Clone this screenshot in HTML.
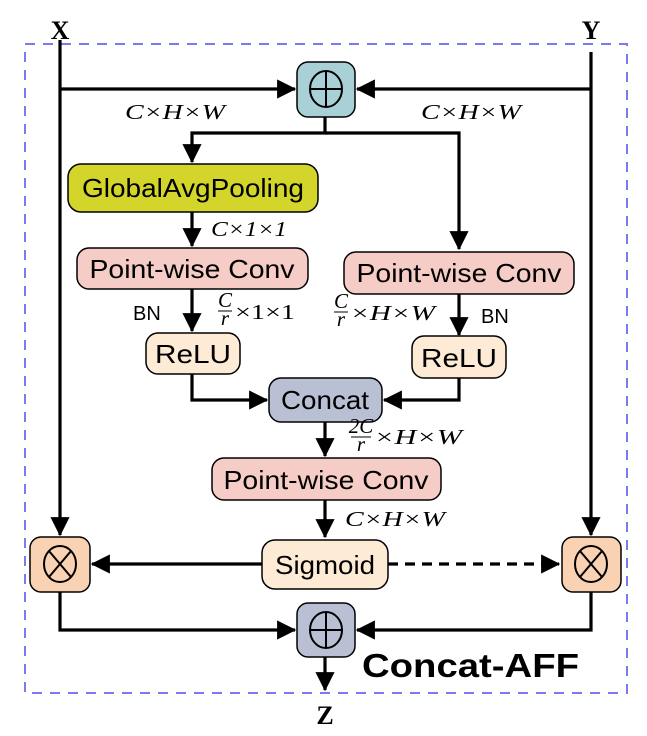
<!DOCTYPE html>
<html><head><meta charset="utf-8"><style>
html,body{margin:0;padding:0;background:#fff}
svg{display:block}
.n{font-family:"Liberation Sans",sans-serif;font-size:26px;fill:#000}
.m{font-family:"Liberation Serif",serif;font-style:italic;font-size:21px;fill:#000}
.u{font-family:"Liberation Serif",serif;font-size:21px;fill:#000}
</style></head><body>
<svg width="647" height="736" viewBox="0 0 647 736" xmlns="http://www.w3.org/2000/svg">
<defs>
<marker id="a" markerWidth="6" markerHeight="6" refX="5.6" refY="3" orient="auto" markerUnits="strokeWidth">
<path d="M0,0 L6,3 L0,6 Z" fill="#000"/>
</marker>
</defs>
<rect x="25" y="44" width="602" height="649" fill="none" stroke="#7b7bf0" stroke-width="2" stroke-dasharray="10,8"/>
<g stroke="#000" stroke-width="3.2" fill="none">
<path d="M60,40 V535" marker-end="url(#a)"/>
<path d="M591,52 V535" marker-end="url(#a)"/>
<path d="M60,89 H295" marker-end="url(#a)"/>
<path d="M591,89 H357" marker-end="url(#a)"/>
<path d="M325,117 V133 H192 V162" marker-end="url(#a)"/>
<path d="M325,133 H459 V249" marker-end="url(#a)"/>
<path d="M192,212 V246" marker-end="url(#a)"/>
<path d="M192,289 V331" marker-end="url(#a)"/>
<path d="M459,294 V335" marker-end="url(#a)"/>
<path d="M192,374 V400 H267" marker-end="url(#a)"/>
<path d="M459,378 V400 H384" marker-end="url(#a)"/>
<path d="M325,422 V456" marker-end="url(#a)"/>
<path d="M325,500 V537" marker-end="url(#a)"/>
<path d="M262,564 H92" marker-end="url(#a)"/>
<path d="M388,564 H559" stroke-dasharray="10,7" marker-end="url(#a)"/>
<path d="M60,592 V630 H295" marker-end="url(#a)"/>
<path d="M591,592 V630 H357" marker-end="url(#a)"/>
<path d="M325,657 V690" marker-end="url(#a)"/>
</g>
<g stroke="#000" stroke-width="1.5">
<rect x="297" y="62" width="58" height="55" rx="11" fill="#a9d0d6"/>
<rect x="68" y="164" width="250" height="48" rx="13" fill="#d4d52a"/>
<rect x="77" y="248" width="231" height="41" rx="12" fill="#f6ccc6"/>
<rect x="344" y="252" width="230" height="42" rx="12" fill="#f6ccc6"/>
<rect x="146" y="333" width="94" height="41" rx="12" fill="#fdebd6"/>
<rect x="412" y="336" width="94" height="42" rx="12" fill="#fdebd6"/>
<rect x="269" y="378" width="113" height="44" rx="12" fill="#b9c0d4"/>
<rect x="212" y="458" width="229" height="42" rx="12" fill="#f6ccc6"/>
<rect x="262" y="540" width="126" height="49" rx="13" fill="#fdebd6"/>
<rect x="30" y="537" width="60" height="55" rx="11" fill="#f8d2b3"/>
<rect x="562" y="537" width="59" height="55" rx="11" fill="#f8d2b3"/>
<rect x="297" y="603" width="58" height="54" rx="11" fill="#b9c0d4"/>
</g>
<g stroke="#000" stroke-width="2" fill="none">
<ellipse cx="326" cy="89" rx="16" ry="18"/><path d="M310,89 H342 M326,71 V107"/>
<ellipse cx="326" cy="630" rx="16" ry="18"/><path d="M310,630 H342 M326,612 V648"/>
<ellipse cx="60" cy="564" rx="16" ry="18"/><path d="M49,551 L71,577 M71,551 L49,577"/>
<ellipse cx="591" cy="564" rx="16" ry="18"/><path d="M580,551 L602,577 M602,551 L580,577"/>
</g>
<g font-family="Liberation Serif,serif" font-weight="bold" font-size="26" text-anchor="middle">
<text x="60" y="39">X</text><text x="591" y="39">Y</text><text x="325" y="724">Z</text>
</g>
<g class="n" text-anchor="middle">
<text x="193" y="197" textLength="222" lengthAdjust="spacingAndGlyphs">GlobalAvgPooling</text>
<text x="192" y="278" textLength="205" lengthAdjust="spacingAndGlyphs">Point-wise Conv</text>
<text x="459" y="282" textLength="205" lengthAdjust="spacingAndGlyphs">Point-wise Conv</text>
<text x="193" y="363" textLength="76" lengthAdjust="spacingAndGlyphs">ReLU</text>
<text x="459" y="367" textLength="76" lengthAdjust="spacingAndGlyphs">ReLU</text>
<text x="325" y="409" textLength="88" lengthAdjust="spacingAndGlyphs">Concat</text>
<text x="326" y="489" textLength="205" lengthAdjust="spacingAndGlyphs">Point-wise Conv</text>
<text x="325" y="574" textLength="100" lengthAdjust="spacingAndGlyphs">Sigmoid</text>
</g>
<g font-family="Liberation Sans,sans-serif" font-size="20">
<text x="133" y="320">BN</text><text x="481" y="323">BN</text>
</g>
<text x="362" y="677" font-family="Liberation Sans,sans-serif" font-weight="bold" font-size="33" textLength="217" lengthAdjust="spacingAndGlyphs">Concat-AFF</text>
<g class="m">
<text x="125" y="119" textLength="100" lengthAdjust="spacingAndGlyphs">C×H×W</text>
<text x="421" y="119" textLength="100" lengthAdjust="spacingAndGlyphs">C×H×W</text>
<text x="211" y="236" textLength="76" lengthAdjust="spacingAndGlyphs">C×1×1</text>
<text x="345" y="526" textLength="100" lengthAdjust="spacingAndGlyphs">C×H×W</text>
</g>
<g class="m" font-size="15" text-anchor="middle">
<text x="225" y="307">C</text><text x="225" y="325">r</text>
<text x="341" y="308">C</text><text x="341" y="326">r</text>
<text x="361" y="433">2C</text><text x="361" y="451">r</text>
</g>
<g stroke="#000" stroke-width="1">
<path d="M218,311 H232 M334,312 H348 M351,437 H371"/>
</g>
<text x="235" y="319" class="u" textLength="60" lengthAdjust="spacingAndGlyphs">×1×1</text>
<text x="350" y="320" class="m" textLength="85" lengthAdjust="spacingAndGlyphs">×H×W</text>
<text x="374" y="444" class="m" textLength="88" lengthAdjust="spacingAndGlyphs">×H×W</text>
</svg>
</body></html>
